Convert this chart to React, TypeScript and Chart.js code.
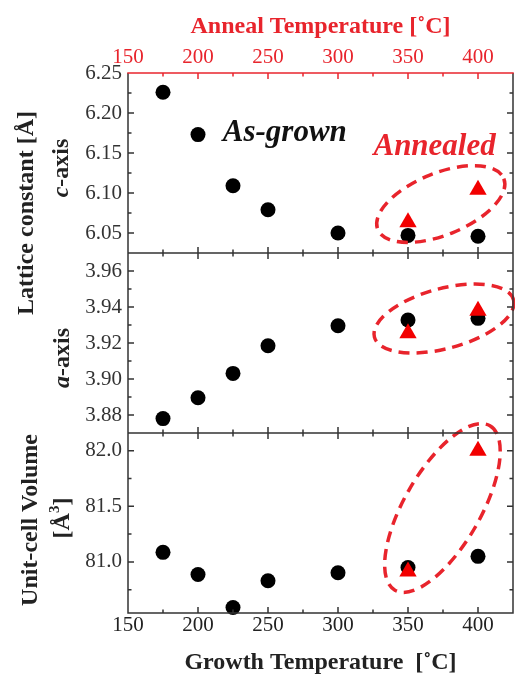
import React, { useEffect, useRef } from 'react';
import { Chart, registerables } from 'chart.js';

Chart.register(...registerables);

// ---- data ----
const GROWTH_T = [175, 200, 225, 250, 300, 350, 400];
const ANNEAL_T = [350, 400];
const C_ASGROWN = [6.226, 6.173, 6.109, 6.079, 6.05, 6.047, 6.046];
const C_ANNEALED = [6.0635, 6.104];
const A_ASGROWN = [3.878, 3.8896, 3.9031, 3.9185, 3.9296, 3.9328, 3.9337];
const A_ANNEALED = [3.9254, 3.9379];
const V_ASGROWN = [81.086, 80.887, 80.589, 80.83, 80.902, 80.949, 81.05];
const V_ANNEALED = [80.913, 82.0];

const X_TICKS = [150, 200, 250, 300, 350, 400];
const C_TICKS = [6.05, 6.1, 6.15, 6.2, 6.25];
const A_TICKS = [3.88, 3.9, 3.92, 3.94, 3.96];
const V_TICKS = [81.0, 81.5, 82.0];

// ---- styling ----
const RED = '#e8242c';
const TRI_RED = '#f20000';
const DARK = '#333333';
const SERIF = '"Liberation Serif", "Times New Roman", serif';

// dashed ellipses (annotation): centre in data units, radii in px
const ELLIPSES = [
  { axis: 'yC', x: 373.4, y: 6.0862, rx: 68, ry: 31, rot: -22 },
  { axis: 'yA', x: 375.7, y: 3.9336, rx: 72, ry: 30, rot: -15 },
  { axis: 'yV', x: 374.6, y: 81.485, rx: 95, ry: 38, rot: -60 },
];

const pts = (xs: number[], ys: number[]) => xs.map((x, i) => ({ x, y: ys[i] }));

const tickFont = { family: SERIF, size: 21, lineHeight: 1 };
const titleFont = { family: SERIF, size: 24, weight: 'bold' as const, lineHeight: 1 };

function yScale(weight: number, min: number, max: number, ticks: number[], digits: number) {
  return {
    type: 'linear' as const,
    position: 'left' as const,
    stack: 'panels',
    stackWeight: 1,
    weight,
    min,
    max,
    grid: { display: false, drawTicks: false },
    border: { display: false },
    ticks: {
      font: tickFont,
      color: DARK,
      padding: 6,
      callback: (v: any) => Number(v).toFixed(digits),
    },
    afterBuildTicks: (s: any) => {
      s.ticks = ticks.map((v) => ({ value: v }));
    },
    afterFit: (s: any) => {
      s.width = 128;
      s.paddingTop = 0;
      s.paddingBottom = 0;
    },
  };
}

function xScale(pos: 'top' | 'bottom', color: string, title: string, height: number, pad: any) {
  return {
    type: 'linear' as const,
    position: pos,
    min: 150,
    max: 425,
    grid: { display: false, drawTicks: false },
    border: { display: false },
    ticks: {
      font: tickFont,
      color,
      padding: pos === 'top' ? 5 : 2,
      maxRotation: 0,
      autoSkip: false,
      callback: (v: any) => String(v),
    },
    afterBuildTicks: (s: any) => {
      s.ticks = X_TICKS.map((v) => ({ value: v }));
    },
    afterFit: (s: any) => {
      s.height = height;
      s.paddingLeft = 0;
      s.paddingRight = 0;
    },
    title: { display: true, text: title, font: titleFont, color: color, padding: pad },
  };
}

function minorValues(ticks: number[], min: number, max: number) {
  const step = ticks[1] - ticks[0];
  const half = step / 2;
  const out: { v: number; major: boolean }[] = [];
  for (let k = -6; k < 40; k++) {
    const v = ticks[0] + k * half;
    if (v > min + 1e-9 && v < max - 1e-9) out.push({ v, major: k % 2 === 0 });
  }
  return out;
}

const framePlugin = {
  id: 'frame',
  afterDatasetsDraw(chart: any) {
    const ctx = chart.ctx as CanvasRenderingContext2D;
    const { left, right, top, bottom } = chart.chartArea;
    const sx = chart.scales.x;
    ctx.save();

    // ellipses
    ELLIPSES.forEach((e) => {
      const ys = chart.scales[e.axis];
      const px = sx.getPixelForValue(e.x);
      const py = ys.getPixelForValue(e.y);
      ctx.beginPath();
      ctx.ellipse(px, py, e.rx, e.ry, (e.rot * Math.PI) / 180, 0, Math.PI * 2);
      ctx.setLineDash([11, 7]);
      ctx.lineWidth = 3.5;
      ctx.strokeStyle = RED;
      ctx.stroke();
    });
    ctx.setLineDash([]);

    const panels = [
      { s: chart.scales.yC, t: C_TICKS },
      { s: chart.scales.yA, t: A_TICKS },
      { s: chart.scales.yV, t: V_TICKS },
    ];

    ctx.lineWidth = 1.5;
    ctx.strokeStyle = DARK;
    // y ticks
    panels.forEach(({ s, t }) => {
      minorValues(t, s.min, s.max).forEach(({ v, major }) => {
        const py = s.getPixelForValue(v);
        const len = major ? 6 : 3.5;
        ctx.beginPath();
        ctx.moveTo(left, py);
        ctx.lineTo(left + len, py);
        ctx.moveTo(right, py);
        ctx.lineTo(right - len, py);
        ctx.stroke();
      });
    });

    // x ticks
    const xs: { v: number; major: boolean }[] = [];
    for (let v = 175; v < 425; v += 25) xs.push({ v, major: v % 50 === 0 });
    const seps = [panels[0].s.bottom, panels[1].s.bottom];
    xs.forEach(({ v, major }) => {
      const px = sx.getPixelForValue(v);
      const len = major ? 6 : 3.5;
      ctx.strokeStyle = DARK;
      ctx.beginPath();
      seps.forEach((yy: number) => {
        ctx.moveTo(px, yy - len);
        ctx.lineTo(px, yy + len);
      });
      ctx.moveTo(px, bottom);
      ctx.lineTo(px, bottom - len);
      ctx.stroke();
      ctx.strokeStyle = RED;
      ctx.beginPath();
      ctx.moveTo(px, top);
      ctx.lineTo(px, top + len);
      ctx.stroke();
    });

    // frame
    ctx.strokeStyle = DARK;
    ctx.beginPath();
    ctx.moveTo(left, top);
    ctx.lineTo(left, bottom);
    ctx.lineTo(right, bottom);
    ctx.lineTo(right, top);
    seps.forEach((yy: number) => {
      ctx.moveTo(left, yy);
      ctx.lineTo(right, yy);
    });
    ctx.stroke();
    ctx.strokeStyle = RED;
    ctx.beginPath();
    ctx.moveTo(left - 0.75, top);
    ctx.lineTo(right + 0.75, top);
    ctx.stroke();

    // annotations
    const yC = chart.scales.yC;
    ctx.textBaseline = 'alphabetic';
    ctx.textAlign = 'center';
    ctx.font = `italic bold 31px ${SERIF}`;
    ctx.fillStyle = '#111';
    ctx.fillText('As-grown', sx.getPixelForValue(262), yC.getPixelForValue(6.165));
    ctx.fillStyle = RED;
    ctx.fillText('Annealed', sx.getPixelForValue(369), yC.getPixelForValue(6.1475));

    ctx.restore();
  },
  afterDraw(chart: any) {
    const ctx = chart.ctx as CanvasRenderingContext2D;
    const B = `bold 24px ${SERIF}`;
    const BI = `italic bold 24px ${SERIF}`;
    const rot = (x: number, y: number, parts: { t: string; f: string; dy?: number }[]) => {
      ctx.save();
      ctx.translate(x, y);
      ctx.rotate(-Math.PI / 2);
      ctx.textBaseline = 'middle';
      ctx.textAlign = 'left';
      ctx.fillStyle = '#222';
      let total = 0;
      parts.forEach((p) => {
        ctx.font = p.f;
        total += ctx.measureText(p.t).width;
      });
      let cx = -total / 2;
      parts.forEach((p) => {
        ctx.font = p.f;
        ctx.fillText(p.t, cx, p.dy || 0);
        cx += ctx.measureText(p.t).width;
      });
      ctx.restore();
    };
    rot(27, 213, [{ t: 'Lattice constant [Å]', f: B }]);
    rot(62, 168, [
      { t: 'c', f: BI },
      { t: '-axis', f: B },
    ]);
    rot(63, 358, [
      { t: 'a', f: BI },
      { t: '-axis', f: B },
    ]);
    rot(31, 520, [{ t: 'Unit-cell Volume', f: B }]);
    rot(63, 518, [
      { t: '[Å', f: B },
      { t: '3', f: `bold 15px ${SERIF}`, dy: -8 },
      { t: ']', f: B },
    ]);
  },
};

export default function App() {
  const ref = useRef<HTMLCanvasElement>(null);
  useEffect(() => {
    const circle = { pointStyle: 'circle', pointRadius: 7.5, pointHoverRadius: 7.5, backgroundColor: '#000', borderWidth: 0, order: 1, clip: false as any };
    const tri = { pointStyle: 'triangle', pointRadius: 10, pointHoverRadius: 10, backgroundColor: TRI_RED, borderWidth: 0, order: 0, clip: false as any };
    const chart = new Chart(ref.current!, {
      type: 'scatter',
      data: {
        datasets: [
          { label: 'c as-grown', data: pts(GROWTH_T, C_ASGROWN), xAxisID: 'x', yAxisID: 'yC', ...circle },
          { label: 'c annealed', data: pts(ANNEAL_T, C_ANNEALED), xAxisID: 'x2', yAxisID: 'yC', ...tri },
          { label: 'a as-grown', data: pts(GROWTH_T, A_ASGROWN), xAxisID: 'x', yAxisID: 'yA', ...circle },
          { label: 'a annealed', data: pts(ANNEAL_T, A_ANNEALED), xAxisID: 'x2', yAxisID: 'yA', ...tri },
          { label: 'V as-grown', data: pts(GROWTH_T, V_ASGROWN), xAxisID: 'x', yAxisID: 'yV', ...circle },
          { label: 'V annealed', data: pts(ANNEAL_T, V_ANNEALED), xAxisID: 'x2', yAxisID: 'yV', ...tri },
        ] as any,
      },
      options: {
        responsive: false,
        animation: false,
        devicePixelRatio: 1,
        layout: { padding: { left: 0, right: 2, top: 0, bottom: 0 } },
        plugins: { legend: { display: false }, tooltip: { enabled: false } },
        scales: {
          x: xScale('bottom', '#222', 'Growth Temperature  [˚C]', 62, { top: 0, bottom: 0 }) as any,
          x2: xScale('top', RED, 'Anneal Temperature [˚C]', 73, { top: 15, bottom: 0 }) as any,
          yC: yScale(3, 6.025, 6.25, C_TICKS, 2) as any,
          yA: yScale(2, 3.87, 3.97, A_TICKS, 2) as any,
          yV: yScale(1, 80.54, 82.16, V_TICKS, 1) as any,
        },
      },
      plugins: [framePlugin],
    });
    return () => chart.destroy();
  }, []);
  // the canvas is 8px wider than the window so the plot frame reaches x=513
  // despite Chart.js reserving room for the largest marker; the overflow is hidden.
  return (
    <div style={{ position: 'absolute', left: 0, top: 0, width: 515, height: 675, overflow: 'hidden' }}>
      <canvas ref={ref} width={523} height={675} style={{ display: 'block' }} />
    </div>
  );
}
